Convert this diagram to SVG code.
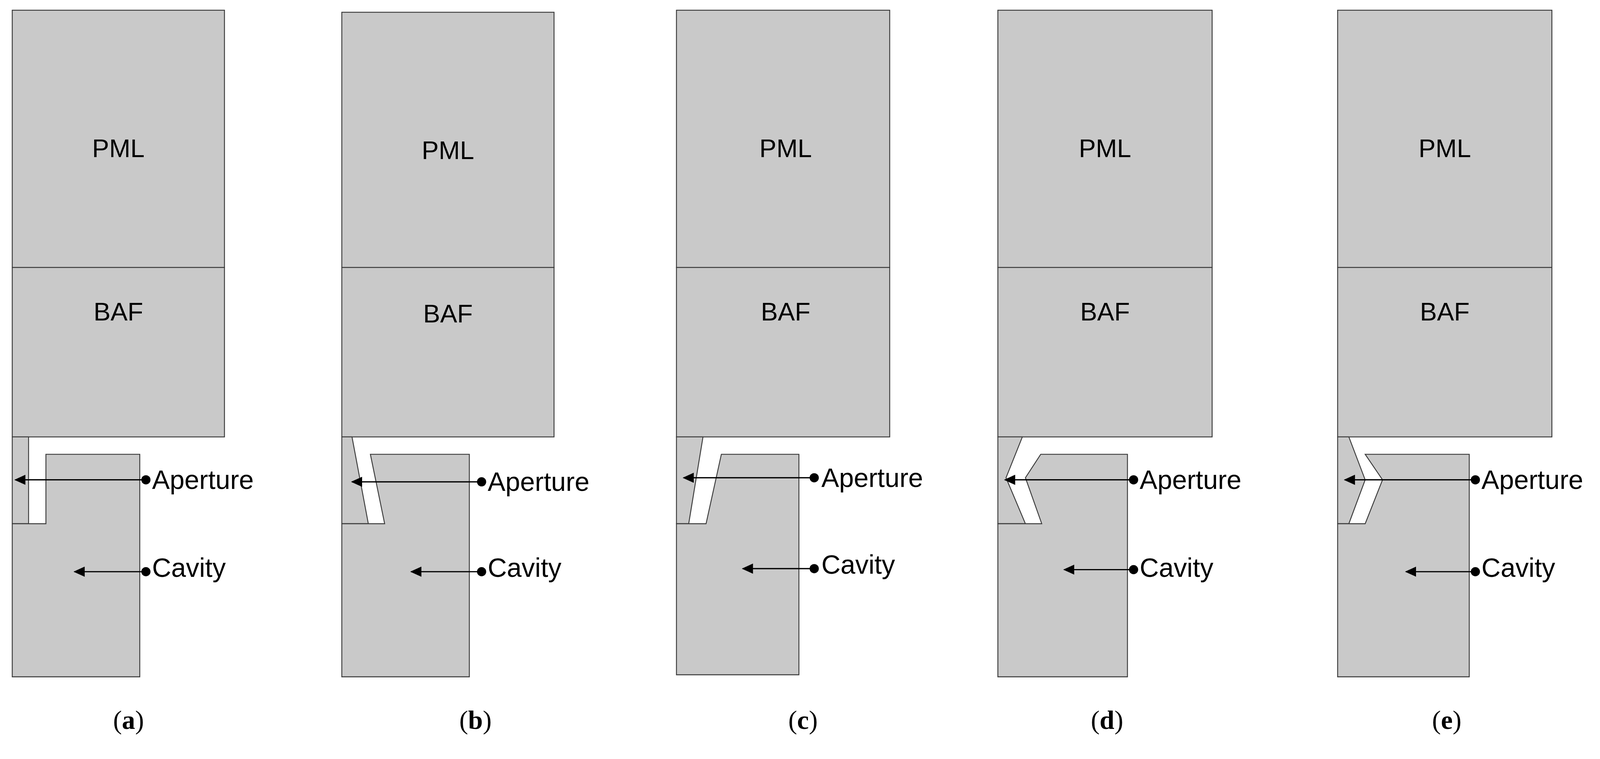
<svg xmlns="http://www.w3.org/2000/svg" width="4197" height="1942" viewBox="0 0 4197 1942">
<style>
.b{fill:#c9c9c9;stroke:#3a3a3a;stroke-width:0.9;stroke-linejoin:miter}
.t{font-family:"Liberation Sans",Arial,sans-serif;font-size:26px;fill:#000}
.p{font-size:25px}
.c{font-family:"Liberation Serif","Times New Roman",serif;font-size:26px;fill:#000;text-anchor:middle}
.m{text-anchor:middle}
.ln{stroke:#000;stroke-width:1.2;fill:none;marker-end:url(#ah)}
.d{fill:#000}
</style>
<defs>
<marker id="ah" markerUnits="userSpaceOnUse" markerWidth="12" markerHeight="10" refX="10" refY="5" orient="auto"><path d="M0,0 L11,5 L0,10 z" fill="#000"/></marker>
</defs>
<rect width="4197" height="1942" fill="#fff"/>
<g transform="scale(2.612)">
<g id="panel-a">
<rect class="b" x="12" y="10" width="208" height="252"/>
<rect class="b" x="12" y="262" width="208" height="166"/>
<path class="b" d="M12,428 H28 V513 H12 Z"/>
<path class="b" d="M45,445 H137 V663 H12 V513 H45 Z"/>
<text class="t p m" x="116" y="154">PML</text><text class="t p m" x="116" y="314">BAF</text>
<text class="t" x="149" y="479">Aperture</text><text class="t" x="149" y="565">Cavity</text>
<text class="c" x="126" y="714">(<tspan font-weight="bold">a</tspan>)</text>
</g>
<g id="panel-b">
<rect class="b" x="335" y="12" width="208" height="250"/>
<rect class="b" x="335" y="262" width="208" height="166"/>
<path class="b" d="M335,428 H345 L361,513 H335 Z"/>
<path class="b" d="M363,445 H460 V663 H335 V513 H377 Z"/>
<text class="t p m" x="439" y="156">PML</text><text class="t p m" x="439" y="316">BAF</text>
<text class="t" x="478" y="481">Aperture</text><text class="t" x="478" y="565">Cavity</text>
<text class="c" x="466" y="714">(<tspan font-weight="bold">b</tspan>)</text>
</g>
<g id="panel-c">
<rect class="b" x="663" y="10" width="209" height="252"/>
<rect class="b" x="663" y="262" width="209" height="166"/>
<path class="b" d="M663,428 H689 L675,513 H663 Z"/>
<path class="b" d="M707,445 H783 V661 H663 V513 H692 Z"/>
<text class="t p m" x="770" y="154">PML</text><text class="t p m" x="770" y="314">BAF</text>
<text class="t" x="805" y="477">Aperture</text><text class="t" x="805" y="562">Cavity</text>
<text class="c" x="787" y="714">(<tspan font-weight="bold">c</tspan>)</text>
</g>
<g id="panel-d">
<rect class="b" x="978" y="10" width="210" height="252"/>
<rect class="b" x="978" y="262" width="210" height="166"/>
<path class="b" d="M978,428 H1002 L986,468 L1005,513 H978 Z"/>
<path class="b" d="M1020,445 H1105 V663 H978 V513 H1021 L1005,468 Z"/>
<text class="t p m" x="1083" y="154">PML</text><text class="t p m" x="1083" y="314">BAF</text>
<text class="t" x="1117" y="479">Aperture</text><text class="t" x="1117" y="565">Cavity</text>
<text class="c" x="1085" y="714">(<tspan font-weight="bold">d</tspan>)</text>
</g>
<g id="panel-e">
<rect class="b" x="1311" y="10" width="210" height="252"/>
<rect class="b" x="1311" y="262" width="210" height="166"/>
<path class="b" d="M1311,428 H1322 L1338,470 L1322,513 H1311 Z"/>
<path class="b" d="M1338,445 H1440 V663 H1311 V513 H1338 L1355,470 Z"/>
<text class="t p m" x="1416" y="154">PML</text><text class="t p m" x="1416" y="314">BAF</text>
<text class="t" x="1452" y="479">Aperture</text><text class="t" x="1452" y="565">Cavity</text>
<text class="c" x="1418" y="714">(<tspan font-weight="bold">e</tspan>)</text>
</g>
<g id="connectors">
<line class="ln" x1="143" y1="470" x2="15" y2="470"/><circle class="d" cx="143" cy="470" r="4.5"/>
<line class="ln" x1="143" y1="560" x2="73" y2="560"/><circle class="d" cx="143" cy="560" r="4.5"/>
<line class="ln" x1="472" y1="472" x2="345" y2="472"/><circle class="d" cx="472" cy="472" r="4.5"/>
<line class="ln" x1="472" y1="560" x2="403" y2="560"/><circle class="d" cx="472" cy="560" r="4.5"/>
<line class="ln" x1="798" y1="468" x2="670" y2="468"/><circle class="d" cx="798" cy="468" r="4.5"/>
<line class="ln" x1="798" y1="557" x2="728" y2="557"/><circle class="d" cx="798" cy="557" r="4.5"/>
<line class="ln" x1="1111" y1="470" x2="985" y2="470"/><circle class="d" cx="1111" cy="470" r="4.5"/>
<line class="ln" x1="1111" y1="558" x2="1043" y2="558"/><circle class="d" cx="1111" cy="558" r="4.5"/>
<line class="ln" x1="1446" y1="470" x2="1318" y2="470"/><circle class="d" cx="1446" cy="470" r="4.5"/>
<line class="ln" x1="1446" y1="560" x2="1378" y2="560"/><circle class="d" cx="1446" cy="560" r="4.5"/>
</g>
</g>
</svg>
